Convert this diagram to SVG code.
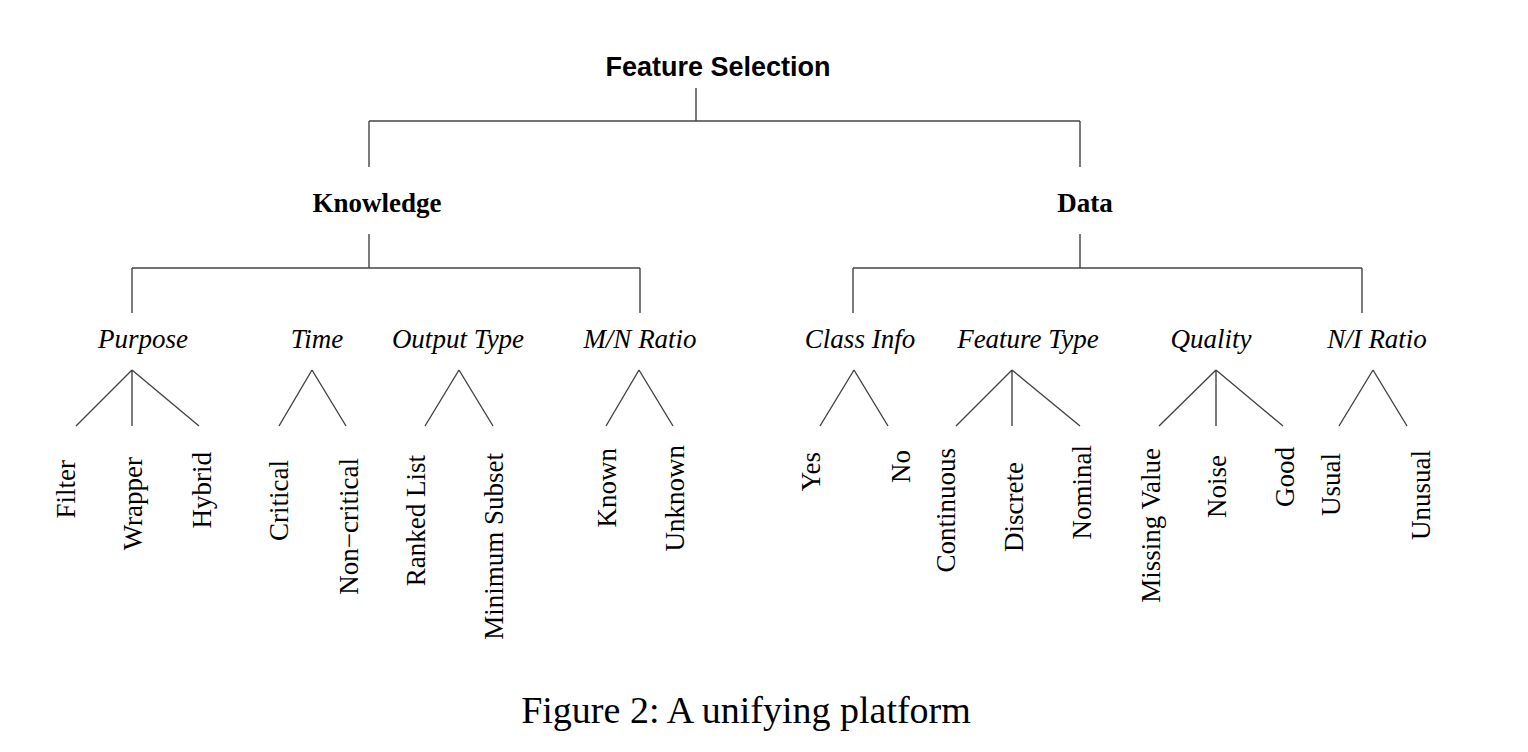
<svg xmlns="http://www.w3.org/2000/svg" width="1528" height="752" viewBox="0 0 1528 752">
<style>
.root{font-family:"Liberation Sans",Arial,sans-serif;font-weight:bold;font-size:27px;fill:#000;text-anchor:middle}
.l1{font-family:"Liberation Serif","Times New Roman",serif;font-weight:bold;font-size:27px;fill:#000;text-anchor:middle}
.l2{font-family:"Liberation Serif","Times New Roman",serif;font-style:italic;font-size:27px;fill:#000;text-anchor:middle}
.leaf{font-family:"Liberation Serif","Times New Roman",serif;font-size:27px;fill:#000;text-anchor:end}
.cap{font-family:"Liberation Serif","Times New Roman",serif;font-size:38px;fill:#000;text-anchor:middle}
.conn path{fill:none;stroke:#444;stroke-width:1.4}
</style>
<rect width="1528" height="752" fill="#fff"/>
<g id="connectors" class="conn">
<path d="M696,88 V121 M369,121 H1080 M369,121 V167 M1080,121 V167"/>
<path d="M369,234 V268 M132,268 H640 M132,268 V313 M640,268 V313"/>
<path d="M1080,234 V268 M853,268 H1362 M853,268 V313 M1362,268 V313"/>
<path d="M132,370 L76,426 M132,370 V426 M132,370 L199,426"/>
<path d="M312,370 L279,426 M312,370 L346,426"/>
<path d="M459,370 L425,426 M459,370 L493,426"/>
<path d="M639,370 L606,426 M639,370 L673,426"/>
<path d="M854,370 L820,426 M854,370 L888,426"/>
<path d="M1012,370 L956,426 M1012,370 V426 M1012,370 L1080,426"/>
<path d="M1216,370 L1159,426 M1216,370 V426 M1216,370 L1283,426"/>
<path d="M1373,370 L1339,426 M1373,370 L1407,426"/>
</g>
<g id="feature-selection"><text class="root" x="718" y="76">Feature Selection</text></g>
<g id="knowledge"><text class="l1" x="377" y="212">Knowledge</text></g>
<g id="data"><text class="l1" x="1085" y="212">Data</text></g>
<g id="purpose"><text class="l2" x="143" y="348">Purpose</text></g>
<g id="time"><text class="l2" x="317" y="348">Time</text></g>
<g id="output-type"><text class="l2" x="458" y="348">Output Type</text></g>
<g id="mn-ratio"><text class="l2" x="640" y="348">M/N Ratio</text></g>
<g id="class-info"><text class="l2" x="860" y="348">Class Info</text></g>
<g id="feature-type"><text class="l2" x="1028" y="348">Feature Type</text></g>
<g id="quality"><text class="l2" x="1211" y="348">Quality</text></g>
<g id="ni-ratio"><text class="l2" x="1377" y="348">N/I Ratio</text></g>
<g id="filter"><text class="leaf" transform="translate(75,460) rotate(-90)">Filter</text></g>
<g id="wrapper"><text class="leaf" transform="translate(142,457) rotate(-90)">Wrapper</text></g>
<g id="hybrid"><text class="leaf" transform="translate(211,452) rotate(-90)">Hybrid</text></g>
<g id="critical"><text class="leaf" transform="translate(288,460) rotate(-90)">Critical</text></g>
<g id="non-critical"><text class="leaf" transform="translate(358,458) rotate(-90)">Non−critical</text></g>
<g id="ranked-list"><text class="leaf" transform="translate(425,455) rotate(-90)">Ranked List</text></g>
<g id="minimum-subset"><text class="leaf" transform="translate(503,453) rotate(-90)">Minimum Subset</text></g>
<g id="known"><text class="leaf" transform="translate(616,448) rotate(-90)">Known</text></g>
<g id="unknown"><text class="leaf" transform="translate(684,445) rotate(-90)">Unknown</text></g>
<g id="yes"><text class="leaf" transform="translate(820,452) rotate(-90)">Yes</text></g>
<g id="no"><text class="leaf" transform="translate(910,450) rotate(-90)">No</text></g>
<g id="continuous"><text class="leaf" transform="translate(955,448) rotate(-90)">Continuous</text></g>
<g id="discrete"><text class="leaf" transform="translate(1023,462) rotate(-90)">Discrete</text></g>
<g id="nominal"><text class="leaf" transform="translate(1091,445) rotate(-90)">Nominal</text></g>
<g id="missing-value"><text class="leaf" transform="translate(1160,448) rotate(-90)">Missing Value</text></g>
<g id="noise"><text class="leaf" transform="translate(1226,455) rotate(-90)">Noise</text></g>
<g id="good"><text class="leaf" transform="translate(1294,447) rotate(-90)">Good</text></g>
<g id="usual"><text class="leaf" transform="translate(1340,453) rotate(-90)">Usual</text></g>
<g id="unusual"><text class="leaf" transform="translate(1430,450) rotate(-90)">Unusual</text></g>
<g id="caption"><text class="cap" x="746" y="723">Figure 2: A unifying platform</text></g>
</svg>
